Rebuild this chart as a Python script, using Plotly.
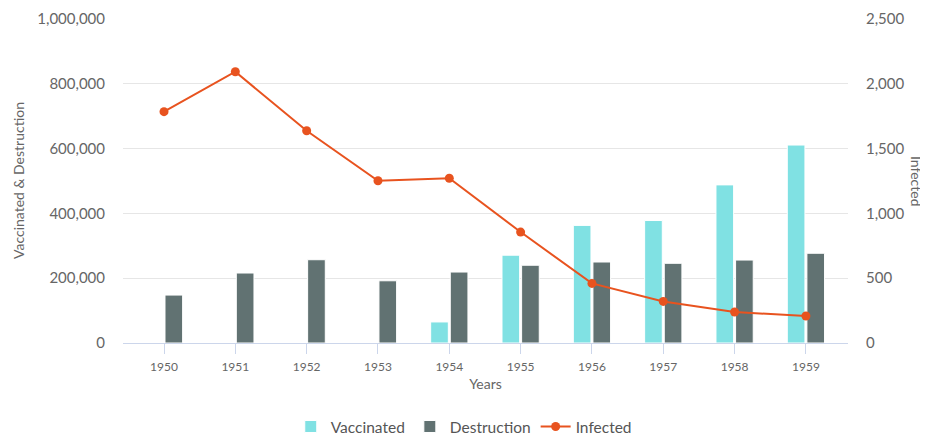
import plotly.graph_objects as go

years = ["1950", "1951", "1952", "1953", "1954", "1955", "1956", "1957", "1958", "1959"]
vaccinated = [0, 0, 0, 0, 65000, 271000, 363000, 378000, 488000, 611000]
destruction = [148000, 216000, 257000, 192000, 219000, 240000, 250000, 246000, 256000, 277000]
infected = [1785, 2093, 1638, 1252, 1271, 856, 460, 321, 239, 208]

left_ticks = [0, 200000, 400000, 600000, 800000, 1000000]
right_ticks = [0, 500, 1000, 1500, 2000, 2500]

FONT = "Lato, Open Sans, sans-serif"
GRAY = "#666666"

fig = go.Figure()
fig.add_trace(go.Bar(x=list(range(len(years))), y=vaccinated, name="Vaccinated",
                     marker=dict(color="#80E1E3", line=dict(color="#ffffff", width=1))))
fig.add_trace(go.Bar(x=list(range(len(years))), y=destruction, name="Destruction",
                     marker=dict(color="#617272", line=dict(color="#ffffff", width=1))))
fig.add_trace(go.Scatter(x=list(range(len(years))), y=infected, name="Infected", yaxis="y2",
                         mode="lines+markers",
                         line=dict(color="#E8531F", width=2),
                         marker=dict(color="#E8531F", size=9)))

# the page body adds an 8px offset; margins compensate for it
fig.update_layout(
    width=928, height=436,
    margin=dict(l=115, r=88, t=11, b=101, autoexpand=False),
    paper_bgcolor="white", plot_bgcolor="white",
    font=dict(family=FONT, color=GRAY, size=13),
    barmode="group", bargap=0.45, bargroupgap=0.1,
    showlegend=True,
    legend=dict(orientation="h", x=0.47, xanchor="center", y=-0.259, yanchor="middle",
                font=dict(size=15.5, color="#555555"), itemwidth=30, traceorder="normal"),
    xaxis=dict(tickmode="array", tickvals=list(range(len(years))), ticktext=years,
               range=[-0.575, 9.59], showgrid=False, zeroline=False,
               showline=True, linecolor="#ccd6eb", linewidth=1,
               ticks="outside", ticklen=10, tickcolor="#ccd6eb",
               tickfont=dict(size=12, color=GRAY), automargin=False,
               ticklabelstandoff=3,
               title=dict(text="Years", font=dict(size=14, color=GRAY), standoff=5)),
    yaxis=dict(range=[0, 1000000], tickvals=left_ticks, tickformat=",",
               showgrid=True, gridcolor="#e6e6e6", gridwidth=1, zeroline=False,
               showline=False, tickfont=dict(size=15, color=GRAY),
               ticklabelstandoff=17, automargin=False),
    yaxis2=dict(range=[0, 2500], tickvals=right_ticks, tickformat=",",
                overlaying="y", side="right", showgrid=False, zeroline=False,
                showline=False, tickfont=dict(size=15, color=GRAY),
                ticklabelstandoff=17, automargin=False),
    annotations=[
        dict(text="Vaccinated & Destruction", xref="paper", yref="paper",
             x=0, xanchor="center", y=0.5, yanchor="middle", textangle=-90,
             showarrow=False, font=dict(size=14, color=GRAY), xshift=18 - 123),
        dict(text="Infected", xref="paper", yref="paper",
             x=1.0, xanchor="center", y=0.5, yanchor="middle", textangle=90,
             showarrow=False, font=dict(size=14, color=GRAY), xshift=69),
    ],
)

fig.write_html("out.html")
